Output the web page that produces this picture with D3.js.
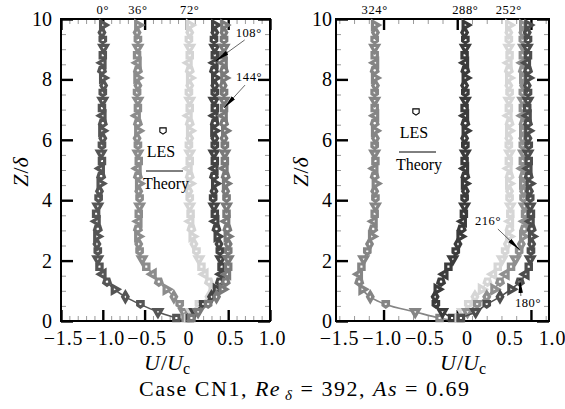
<!DOCTYPE html>
<html>
<head>
<meta charset="utf-8">
<script src="https://cdn.jsdelivr.net/npm/d3@7"></script>
<style>
body { margin: 0; background: #fff; }
svg { display: block; }
.frame { fill: none; stroke: #000; stroke-width: 2; }
.major line { stroke: #000; stroke-width: 2.4; }
.minor line { stroke: #9a9a9a; stroke-width: 1; }
.domain { display: none; }
</style>
</head>
<body>
<div id="chart"></div>
<script>

var SERIF = "'Liberation Serif', 'Times New Roman', serif";

// wall-normal positions of the LES samples (Z / delta)
var zGrid = [0.1, 0.3, 0.55, 0.8, 1.05, 1.3, 1.55, 1.8, 2.05, 2.3,
             2.55, 2.8, 3.05, 3.3, 3.55, 3.8, 4.05, 4.3, 4.55, 4.8,
             5.05, 5.3, 5.55, 5.8, 6.05, 6.3, 6.55, 6.8, 7.05, 7.3,
             7.55, 7.8, 8.05, 8.3, 8.55, 8.8, 9.05, 9.3, 9.55, 9.8];

// left panel, U/Uc for each phase
var u000 = [-0.12, -0.34, -0.55, -0.73, -0.86, -0.95, -1.00, -1.04, -1.06, -1.06,
            -1.07, -1.07, -1.06, -1.07, -1.08, -1.06, -1.05, -1.04, -1.03, -1.02,
            -1.02, -1.01, -1.02, -1.01, -1.00, -1.01, -1.00, -1.00, -1.01, -1.00,
            -1.00, -0.99, -1.00, -1.01, -1.00, -1.00, -0.99, -1.00, -1.01, -1.00];
var u036 = [-0.01, -0.03, -0.08, -0.15, -0.24, -0.33, -0.40, -0.48, -0.53, -0.56,
            -0.57, -0.58, -0.58, -0.57, -0.57, -0.56, -0.56, -0.57, -0.57, -0.58,
            -0.58, -0.57, -0.58, -0.58, -0.59, -0.58, -0.58, -0.59, -0.58, -0.58,
            -0.59, -0.58, -0.59, -0.58, -0.58, -0.59, -0.58, -0.58, -0.59, -0.58];
var u072 = [0.02, 0.06, 0.15, 0.27, 0.31, 0.27, 0.22, 0.18, 0.15, 0.12,
            0.09, 0.07, 0.06, 0.05, 0.05, 0.04, 0.04, 0.03, 0.04, 0.04,
            0.03, 0.04, 0.04, 0.03, 0.04, 0.04, 0.04, 0.03, 0.04, 0.04,
            0.03, 0.04, 0.04, 0.04, 0.03, 0.04, 0.04, 0.03, 0.04, 0.04];
var u108 = [0.04, 0.10, 0.20, 0.30, 0.36, 0.40, 0.42, 0.42, 0.41, 0.40,
            0.39, 0.37, 0.36, 0.35, 0.34, 0.33, 0.32, 0.33, 0.34, 0.33,
            0.34, 0.34, 0.33, 0.34, 0.34, 0.33, 0.34, 0.34, 0.34, 0.33,
            0.34, 0.34, 0.34, 0.33, 0.34, 0.34, 0.34, 0.33, 0.34, 0.34];
var u144 = [0.06, 0.14, 0.26, 0.36, 0.43, 0.47, 0.49, 0.50, 0.50, 0.50,
            0.50, 0.49, 0.49, 0.48, 0.48, 0.48, 0.48, 0.47, 0.47, 0.47,
            0.46, 0.46, 0.46, 0.46, 0.45, 0.46, 0.45, 0.45, 0.45, 0.45,
            0.45, 0.44, 0.45, 0.45, 0.45, 0.44, 0.45, 0.45, 0.45, 0.45];

// right panel
var u324 = [-0.24, -0.57, -0.97, -1.18, -1.29, -1.33, -1.33, -1.30, -1.27, -1.22,
            -1.19, -1.16, -1.14, -1.13, -1.12, -1.11, -1.11, -1.12, -1.11, -1.12,
            -1.12, -1.11, -1.12, -1.12, -1.11, -1.12, -1.12, -1.11, -1.12, -1.12,
            -1.12, -1.11, -1.12, -1.12, -1.11, -1.12, -1.12, -1.12, -1.11, -1.12];
var u288 = [-0.07, -0.20, -0.29, -0.30, -0.27, -0.22, -0.17, -0.12, -0.06, -0.02,
            0.01, 0.04, 0.06, 0.08, 0.09, 0.10, 0.10, 0.11, 0.10, 0.11,
            0.11, 0.10, 0.11, 0.11, 0.10, 0.11, 0.11, 0.11, 0.10, 0.11,
            0.11, 0.10, 0.11, 0.11, 0.11, 0.10, 0.11, 0.11, 0.10, 0.11];
var u252 = [0.02, 0.07, 0.15, 0.24, 0.33, 0.41, 0.49, 0.55, 0.61, 0.65,
            0.68, 0.70, 0.71, 0.72, 0.72, 0.72, 0.71, 0.71, 0.70, 0.71,
            0.70, 0.70, 0.71, 0.70, 0.70, 0.70, 0.71, 0.70, 0.70, 0.70,
            0.71, 0.70, 0.70, 0.70, 0.70, 0.71, 0.70, 0.70, 0.70, 0.70];
var u216 = [0.04, 0.14, 0.27, 0.40, 0.50, 0.58, 0.66, 0.73, 0.79, 0.84,
            0.87, 0.89, 0.91, 0.92, 0.92, 0.91, 0.90, 0.90, 0.89, 0.90,
            0.89, 0.89, 0.90, 0.89, 0.89, 0.89, 0.90, 0.89, 0.89, 0.89,
            0.89, 0.90, 0.89, 0.89, 0.89, 0.89, 0.90, 0.89, 0.89, 0.89];
var u180 = [0.05, 0.25, 0.40, 0.58, 0.73, 0.85, 0.93, 0.97, 0.99, 1.00,
            1.01, 1.01, 1.01, 1.00, 1.00, 0.99, 0.99, 0.98, 0.98, 0.97,
            0.97, 0.97, 0.96, 0.97, 0.96, 0.96, 0.96, 0.96, 0.95, 0.96,
            0.96, 0.95, 0.96, 0.96, 0.95, 0.96, 0.95, 0.96, 0.95, 0.96];

var leftPhases = ["0°", "36°", "72°", "108°", "144°"];
var leftColors = ["#555555", "#8c8c8c", "#d4d4d4", "#444444", "#7a7a7a"];
var rightPhases = ["324°", "288°", "252°", "216°", "180°"];
var rightColors = ["#858585", "#3b3b3b", "#d6d6d6", "#8f8f8f", "#4d4d4d"];

// phases that get a label at the top of the frame
var leftTopLabels = ["0°", "36°", "72°"];
var rightTopLabels = ["324°", "288°", "252°"];

var xTickLabels = [-1.5, -1.0, -0.5, 0, 0.5, 1.0];
var yTickValues = [0, 2, 4, 6, 8, 10];

// callouts: tip in data units, tail / text offsets in px
var leftNotes = [
    {text: "108°", u: 0.35, z: 8.61, tail: [29, -21], label: [20, -24]},
    {text: "144°", u: 0.45, z: 7.05, tail: [21, -23], label: [12, -27]}
];
var rightNotes = [
    {text: "216°", u: 0.85, z: 2.35, tail: [-22, -21], label: [-45, -25]},
    {text: "180°", u: 0.85, z: 1.39, tail: [1, 17], label: [-5, 28]}
];


/**
 * One panel of velocity profiles
 */
function ProfilePanel(svg, opts){
    var self = this;
    self.svg = svg;
    self.opts = opts;
    self.init();
}

ProfilePanel.prototype.init = function(){
    var self = this;
    var o = self.opts;

    self.x = d3.scaleLinear().domain(o.xDomain).range(o.xRange);
    self.y = d3.scaleLinear().domain([0, 10]).range([321, 19]);
    self.g = self.svg.append("g");

    var left = o.xRange[0], right = o.xRange[1];
    var top = self.y(10), bottom = self.y(0);

    //minor ticks, all four sides
    var xMinor = d3.range(Math.ceil(o.xDomain[0] / o.minorStep), Math.floor(o.xDomain[1] / o.minorStep) + 1)
        .map(function(k){ return Math.round(k * o.minorStep * 100) / 100; })
        .filter(function(d){ return o.majorX.indexOf(d) < 0 && d > o.xDomain[0] && d < o.xDomain[1]; });
    var yMinor = d3.range(0.5, 10, 0.5).filter(function(d){ return d % 2 !== 0; });

    self.g.append("g").attr("class", "minor").attr("transform", "translate(0," + bottom + ")")
        .call(d3.axisBottom(self.x).tickValues(xMinor).tickSize(-5).tickFormat(""));
    self.g.append("g").attr("class", "minor").attr("transform", "translate(0," + top + ")")
        .call(d3.axisTop(self.x).tickValues(xMinor).tickSize(-5).tickFormat(""));
    self.g.append("g").attr("class", "minor").attr("transform", "translate(" + left + ",0)")
        .call(d3.axisLeft(self.y).tickValues(yMinor).tickSize(-5).tickFormat(""));
    self.g.append("g").attr("class", "minor").attr("transform", "translate(" + right + ",0)")
        .call(d3.axisRight(self.y).tickValues(yMinor).tickSize(-5).tickFormat(""));

    //major ticks
    self.g.append("g").attr("class", "major").attr("transform", "translate(0," + bottom + ")")
        .call(d3.axisBottom(self.x).tickValues(o.majorX).tickSize(-11).tickFormat(""));
    self.g.append("g").attr("class", "major").attr("transform", "translate(0," + top + ")")
        .call(d3.axisTop(self.x).tickValues(o.majorX).tickSize(-11).tickFormat(""));
    self.g.append("g").attr("class", "major").attr("transform", "translate(" + left + ",0)")
        .call(d3.axisLeft(self.y).tickValues(yTickValues).tickSize(-12).tickFormat(""));
    self.g.append("g").attr("class", "major").attr("transform", "translate(" + right + ",0)")
        .call(d3.axisRight(self.y).tickValues(yTickValues).tickSize(-12).tickFormat(""));

    //tick labels
    var fmt = function(d){ return d === 0 ? "0" : d3.format(".1f")(d); };
    var labelScale = d3.scaleLinear().domain([-1.5, 1.0]).range(o.labelRange);
    self.g.append("g").attr("transform", "translate(0," + bottom + ")")
        .call(d3.axisBottom(labelScale).tickValues(xTickLabels).tickSize(0).tickPadding(10).tickFormat(fmt))
        .selectAll("text").style("font-family", SERIF).style("font-size", "20px")
        .style("letter-spacing", "0.8px").attr("fill", "#000");
    self.g.append("g").attr("transform", "translate(" + left + ",0)")
        .call(d3.axisLeft(self.y).tickValues(yTickValues).tickSize(0).tickPadding(o.yPad).tickFormat(d3.format("d")))
        .selectAll("text").style("font-family", SERIF).style("font-size", "20px").attr("fill", "#000");

    self.g.append("rect")
        .attr("class", "frame")
        .attr("x", left).attr("y", top)
        .attr("width", right - left).attr("height", bottom - top);

    //axis titles
    var xt = self.svg.append("text")
        .attr("x", o.xTitleX).attr("y", 370)
        .attr("text-anchor", "middle")
        .style("font-size", "22px");
    xt.append("tspan").attr("font-style", "italic").text("U");
    xt.append("tspan").attr("dx", 1).text("/");
    xt.append("tspan").attr("font-style", "italic").text("U");
    xt.append("tspan").style("font-size", "16px").attr("dy", 4).text("c");

    var yt = self.svg.append("text")
        .attr("transform", "translate(" + o.yTitleX + ",172) rotate(-90)")
        .attr("text-anchor", "middle")
        .style("font-size", "22px");
    yt.append("tspan").attr("font-style", "italic").text("Z");
    yt.append("tspan").attr("dx", 1).text("/");
    yt.append("tspan").attr("font-style", "italic").text("δ");

    //legend
    var lg = self.svg.append("g")
        .attr("transform", "translate(" + o.legend[0] + "," + o.legend[1] + ")")
        .style("font-size", "16px");
    lg.append("path")
        .attr("d", d3.symbol().type(symbolShield).size(40)())
        .attr("fill", "#fff").attr("stroke", "#000").attr("stroke-width", 1.1);
    lg.append("text").attr("x", -2).attr("y", 26).attr("text-anchor", "middle").text("LES");
    lg.append("line").attr("x1", -17).attr("x2", 20).attr("y1", 40).attr("y2", 40)
        .attr("stroke", "#000").attr("stroke-width", 1);
    lg.append("text").attr("x", 3).attr("y", 58).attr("text-anchor", "middle").text("Theory");
};

/**
 * Draws theory lines and LES markers for each phase
 */
ProfilePanel.prototype.update = function(series, topLabels, notes){
    var self = this;

    var line = d3.line()
        .x(function(d){ return self.x(d.u); })
        .y(function(d){ return self.y(d.z); })
        .curve(d3.curveCatmullRom);

    series.forEach(function(s){
        var pts = zGrid.map(function(z, i){ return {z: z, u: s.u[i]}; });

        self.g.append("path")
            .datum([{z: 0, u: 0}].concat(pts))
            .attr("d", line)
            .attr("fill", "none")
            .attr("stroke", s.color)
            .attr("stroke-width", 1.6);

        self.g.selectAll(null)
            .data(pts)
            .enter()
            .append("path")
            .attr("d", function(d, i){
                var m = markerShapes[i % markerShapes.length];
                return d3.symbol().type(m.type).size(m.size)();
            })
            .attr("transform", function(d, i){
                return "translate(" + self.x(d.u) + "," + self.y(d.z) + ") rotate(" +
                    markerShapes[i % markerShapes.length].rot + ")";
            })
            .attr("fill", "#fff")
            .attr("stroke", s.color)
            .attr("stroke-width", 3.2);

        if (topLabels.indexOf(s.phase) > -1) {
            self.svg.append("text")
                .attr("x", self.x(s.u[s.u.length - 1]))
                .attr("y", 14)
                .attr("text-anchor", "middle")
                .style("font-size", "12.5px")
                .style("letter-spacing", "0.6px")
                .text(s.phase);
        }
    });

    notes.forEach(function(n){
        var tx = self.x(n.u), ty = self.y(n.z);
        self.svg.append("line")
            .attr("x1", tx + n.tail[0]).attr("y1", ty + n.tail[1])
            .attr("x2", tx).attr("y2", ty)
            .attr("stroke", "#000").attr("stroke-width", 0.6)
            .attr("marker-end", "url(#wedge)");
        self.svg.append("text")
            .attr("x", tx + n.label[0]).attr("y", ty + n.label[1])
            .style("font-size", "12.5px")
            .style("letter-spacing", "0.6px")
            .text(n.text);
    });
};


var symbolPentagon = {
    draw: function(ctx, size){
        var r = Math.sqrt(size / 2.4);
        for (var i = 0; i < 5; i++) {
            var a = -Math.PI / 2 + i * 2 * Math.PI / 5;
            if (i === 0) ctx.moveTo(r * Math.cos(a), r * Math.sin(a));
            else ctx.lineTo(r * Math.cos(a), r * Math.sin(a));
        }
        ctx.closePath();
    }
};

// flat top, pointed bottom, like the legend glyph
var symbolShield = {
    draw: function(ctx, size){
        var r = Math.sqrt(size) / 2;
        ctx.moveTo(-r, -r);
        ctx.lineTo(r, -r);
        ctx.lineTo(r, r * 0.3);
        ctx.lineTo(0, r);
        ctx.lineTo(-r, r * 0.3);
        ctx.closePath();
    }
};

var markerShapes = [
    {type: d3.symbolSquare, rot: 0, size: 28},
    {type: d3.symbolTriangle, rot: 180, size: 26},
    {type: symbolShield, rot: 0, size: 30},
    {type: d3.symbolDiamond, rot: 0, size: 26},
    {type: d3.symbolTriangle, rot: 90, size: 26},
    {type: symbolPentagon, rot: 180, size: 28},
    {type: d3.symbolTriangle, rot: -90, size: 26}
];

var svg = d3.select("#chart").append("svg")
    .attr("width", 565)
    .attr("height", 409)
    .style("font-family", SERIF);

svg.append("rect").attr("width", 565).attr("height", 409).attr("fill", "#fff");

svg.append("defs").append("marker")
    .attr("id", "wedge")
    .attr("viewBox", "0 0 14 6")
    .attr("refX", 14).attr("refY", 3)
    .attr("markerWidth", 14).attr("markerHeight", 6)
    .attr("markerUnits", "userSpaceOnUse")
    .attr("orient", "auto")
    .append("path")
    .attr("d", "M0,0.8 L14,3 L0,5.2 Z")
    .attr("fill", "#000");

var leftData = [u000, u036, u072, u108, u144].map(function(u, i){
    return {phase: leftPhases[i], color: leftColors[i], u: u};
});
var rightData = [u324, u288, u252, u216, u180].map(function(u, i){
    return {phase: rightPhases[i], color: rightColors[i], u: u};
});

var leftPanel = new ProfilePanel(svg, {
    xDomain: [-1.5, 1.0], xRange: [61, 270],
    majorX: [-1.5, -1.0, -0.5, 0, 0.5, 1.0], minorStep: 0.1,
    labelRange: [63, 272], yPad: 9,
    xTitleX: 167, yTitleX: 28, legend: [163, 131]
});
leftPanel.update(leftData, leftTopLabels, leftNotes);

var rightPanel = new ProfilePanel(svg, {
    xDomain: [-1.645, 1.245], xRange: [336, 549],
    majorX: [-1, 0, 1], minorStep: 0.2,
    labelRange: [339, 552], yPad: 4,
    xTitleX: 463, yTitleX: 308, legend: [416, 112]
});
rightPanel.update(rightData, rightTopLabels, rightNotes);

//caption
var cap = svg.append("text")
    .attr("x", 304).attr("y", 396)
    .attr("text-anchor", "middle")
    .attr("textLength", 330)
    .attr("lengthAdjust", "spacing")
    .style("font-size", "22px");
cap.append("tspan").text("Case CN1, ");
cap.append("tspan").attr("font-style", "italic").text("Re");
cap.append("tspan").attr("font-style", "italic").style("font-size", "15px").attr("dx", 4).attr("dy", 4).text("δ");
cap.append("tspan").attr("dy", -4).text(" = 392, ");
cap.append("tspan").attr("font-style", "italic").text("As");
cap.append("tspan").text(" = 0.69");

</script>
</body>
</html>
